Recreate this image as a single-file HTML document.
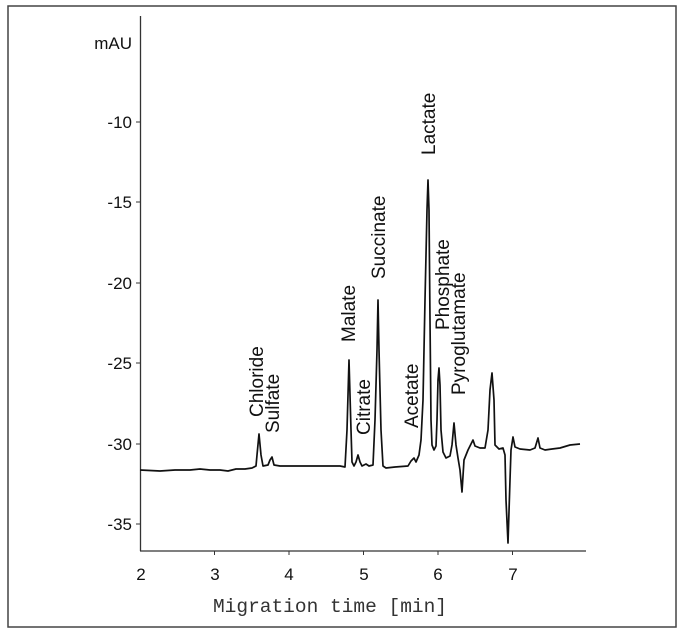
<!DOCTYPE html>
<html><head><style>
body{margin:0;background:#fff}
svg{display:block}
text{font-family:"Liberation Sans",Arial,sans-serif;fill:#111}
</style></head><body>
<svg width="685" height="634" viewBox="0 0 685 634">
<rect x="8" y="6" width="668" height="621" fill="#fff" stroke="#444" stroke-width="1.5"/>
<line x1="140.5" y1="16" x2="140.5" y2="551" stroke="#333" stroke-width="1.3"/>
<line x1="140" y1="551" x2="586" y2="551" stroke="#333" stroke-width="1.3"/>
<g stroke="#333" stroke-width="1">
<line x1="140" y1="122" x2="136" y2="122"/><line x1="140" y1="202" x2="136" y2="202"/>
<line x1="140" y1="283" x2="136" y2="283"/><line x1="140" y1="363" x2="136" y2="363"/>
<line x1="140" y1="444" x2="136" y2="444"/><line x1="140" y1="524" x2="136" y2="524"/>
<line x1="214.5" y1="551" x2="214.5" y2="555"/><line x1="289" y1="551" x2="289" y2="555"/>
<line x1="363.5" y1="551" x2="363.5" y2="555"/><line x1="438" y1="551" x2="438" y2="555"/>
<line x1="512.5" y1="551" x2="512.5" y2="555"/>
</g>
<g font-size="17" text-anchor="end">
<text x="132" y="49">mAU</text>
<text x="132" y="128">-10</text><text x="132" y="208">-15</text>
<text x="132" y="289">-20</text><text x="132" y="369">-25</text>
<text x="132" y="450">-30</text><text x="132" y="530">-35</text>
</g>
<g font-size="17" text-anchor="middle">
<text x="141" y="580">2</text><text x="215" y="580">3</text><text x="289" y="580">4</text>
<text x="364" y="580">5</text><text x="438" y="580">6</text><text x="513" y="580">7</text>
</g>
<text x="330" y="612" font-size="19.5" text-anchor="middle" style="font-family:'Liberation Mono',monospace;fill:#333">Migration time [min]</text>
<polyline fill="none" stroke="#111" stroke-width="1.7" stroke-linejoin="round" points="
140,470 160,471 175,470 190,470 200,469 210,470 220,470 228,471 236,469 245,469 252,468 256,466
257,455 259,434 261,455 263,466 268,465 270,460 272,457 274,465 280,466 300,466 320,466 340,466 345,467
347,430 349,360 351,430 352,462 354,466 356,462 358,455 360,462 362,466 366,464 369,466
373,465 375,420 377,350 378,300 379,350 381,430 383,466 386,468 395,467 408,466 411,461 414,458 416,462
419,455 421,440 423,400 425,300 427,210 428,180 429,210 430,320 431,420 432,445 434,450 436,446 437,420
438,380 439,368 440,385 441,430 443,452 446,458 450,456 452,445 454,423 456,445 458,458 460,470 462,492 464,460
468,450 471,444 473,440 475,446 480,448 485,448 488,430 490,390 492,373 494,400 495,445 499,449 503,448
505,455 506,500 508,543 510,480 511,450 513,437 515,447 520,449 530,450 535,448 538,438 540,448
545,450 552,449 560,448 570,445 580,444"/>
<g font-size="19">
<text transform="translate(263,417) rotate(-90)">Chloride</text>
<text transform="translate(279,433) rotate(-90)">Sulfate</text>
<text transform="translate(355,342) rotate(-90)">Malate</text>
<text transform="translate(370,435) rotate(-90)">Citrate</text>
<text transform="translate(385,279) rotate(-90)">Succinate</text>
<text transform="translate(418,428) rotate(-90)">Acetate</text>
<text transform="translate(435,155) rotate(-90)">Lactate</text>
<text transform="translate(449,330) rotate(-90)">Phosphate</text>
<text transform="translate(465,395) rotate(-90)">Pyroglutamate</text>
</g>
</svg>
</body></html>
